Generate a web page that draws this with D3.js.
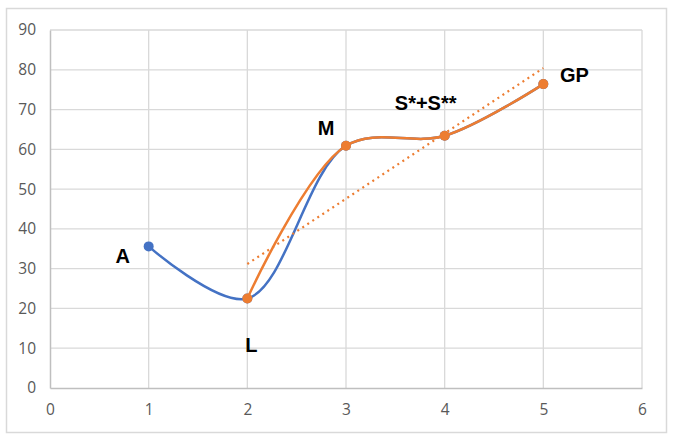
<!DOCTYPE html>
<html>
<head>
<meta charset="utf-8">
<script src="https://cdn.jsdelivr.net/npm/d3@7"></script>
<style>
  body { margin: 0; background: #fff; }
  .tick text { font-family: "Open Sans", "Liberation Sans", sans-serif; font-size: 15.5px; fill: #595959; }
  .lbl { font-family: "Liberation Sans", Arial, sans-serif; font-weight: bold; font-size: 20px; fill: #000; }
</style>
</head>
<body>
<div id="wrapper"></div>
<script>
// Data
const blueX = [1, 2, 3, 4, 5];
const blueY = [35.6, 22.5, 60.9, 63.4, 76.4];
const orangeX = [2, 3, 4, 5];
const orangeY = [22.5, 60.9, 63.4, 76.4];
const pointLabels = ['A', 'L', 'M', 'S*+S**', 'GP'];
const xTicks = [0, 1, 2, 3, 4, 5, 6];
const yTicks = [0, 10, 20, 30, 40, 50, 60, 70, 80, 90];

// Dimension
const dimension = {width: 673, height: 442,
    margin: {top: 30, bottom: 54, left: 50, right: 31}};
dimension.boundWidth = dimension.width - dimension.margin.left - dimension.margin.right;
dimension.boundHeight = dimension.height - dimension.margin.top - dimension.margin.bottom;

// Canvas
const svg = d3.select('#wrapper').append('svg')
  .attr('width', dimension.width).attr('height', dimension.height);
svg.append('rect').attr('x', 6.5).attr('y', 8.5).attr('width', 660).attr('height', 424)
  .attr('fill', '#fff').attr('stroke', '#d9d9d9').attr('stroke-width', 1.5);
const bounds = svg.append('g')
  .attr('transform', `translate(${dimension.margin.left},${dimension.margin.top})`);

const xScale = d3.scaleLinear().domain([0, 6]).range([0, dimension.boundWidth]);
const yScale = d3.scaleLinear().domain([0, 90]).range([dimension.boundHeight, 0]);

// grid
bounds.append('g').selectAll('line').data(yTicks.slice(1)).join('line')
  .attr('x1', 0).attr('x2', dimension.boundWidth)
  .attr('y1', d => yScale(d)).attr('y2', d => yScale(d))
  .attr('stroke', '#d9d9d9').attr('stroke-width', 1.3);
bounds.append('g').selectAll('line').data(xTicks.slice(1)).join('line')
  .attr('y1', 0).attr('y2', dimension.boundHeight)
  .attr('x1', d => xScale(d)).attr('x2', d => xScale(d))
  .attr('stroke', '#d9d9d9').attr('stroke-width', 1.3);

// axes
const xAxis = bounds.append('g').attr('transform', `translate(0,${dimension.boundHeight})`)
  .call(d3.axisBottom(xScale).tickValues(xTicks).tickSize(0).tickPadding(16).tickFormat(d3.format('d')));
xAxis.select('.domain').attr('stroke', '#bfbfbf').attr('stroke-width', 1.5);
const yAxis = bounds.append('g')
  .call(d3.axisLeft(yScale).tickValues(yTicks).tickSize(0).tickPadding(14).tickFormat(d3.format('d')));
yAxis.select('.domain').attr('stroke', '#bfbfbf').attr('stroke-width', 1.5);

// series
const line = d3.line().x(d => xScale(d[0])).y(d => yScale(d[1])).curve(d3.curveCatmullRom.alpha(0.5));
const blueData = blueX.map((x, i) => [x, blueY[i]]);
const orangeData = orangeX.map((x, i) => [x, orangeY[i]]);

bounds.append('path').datum(blueData).attr('d', line)
  .attr('fill', 'none').attr('stroke', '#4472c4').attr('stroke-width', 2.5);
bounds.append('g').selectAll('circle').data(blueData).join('circle')
  .attr('cx', d => xScale(d[0])).attr('cy', d => yScale(d[1])).attr('r', 5)
  .attr('fill', '#4472c4');

// linear trendline for orange series
const mx = d3.mean(orangeX), my = d3.mean(orangeY);
const slope = d3.sum(orangeX, (x, i) => (x - mx) * (orangeY[i] - my)) / d3.sum(orangeX, x => (x - mx) ** 2);
const trend = [orangeX[0], orangeX[orangeX.length - 1]].map(x => [x, my + slope * (x - mx)]);
bounds.append('path').datum(trend).attr('d', d3.line().x(d => xScale(d[0])).y(d => yScale(d[1])))
  .attr('fill', 'none').attr('stroke', '#ed7d31').attr('stroke-width', 2.2)
  .attr('stroke-dasharray', '2,4');

bounds.append('path').datum(orangeData).attr('d', line)
  .attr('fill', 'none').attr('stroke', '#ed7d31').attr('stroke-width', 2.5);
bounds.append('g').selectAll('circle').data(orangeData).join('circle')
  .attr('cx', d => xScale(d[0])).attr('cy', d => yScale(d[1])).attr('r', 5)
  .attr('fill', '#ed7d31');

// point labels
const labelOffsets = [[-26, 17], [4, 53], [-20, -11], [-19, -26], [31, -2]];
bounds.append('g').selectAll('text').data(blueData).join('text')
  .attr('class', 'lbl')
  .attr('x', (d, i) => xScale(d[0]) + labelOffsets[i][0])
  .attr('y', (d, i) => yScale(d[1]) + labelOffsets[i][1])
  .attr('text-anchor', 'middle')
  .text((d, i) => pointLabels[i]);
</script>
</body>
</html>
